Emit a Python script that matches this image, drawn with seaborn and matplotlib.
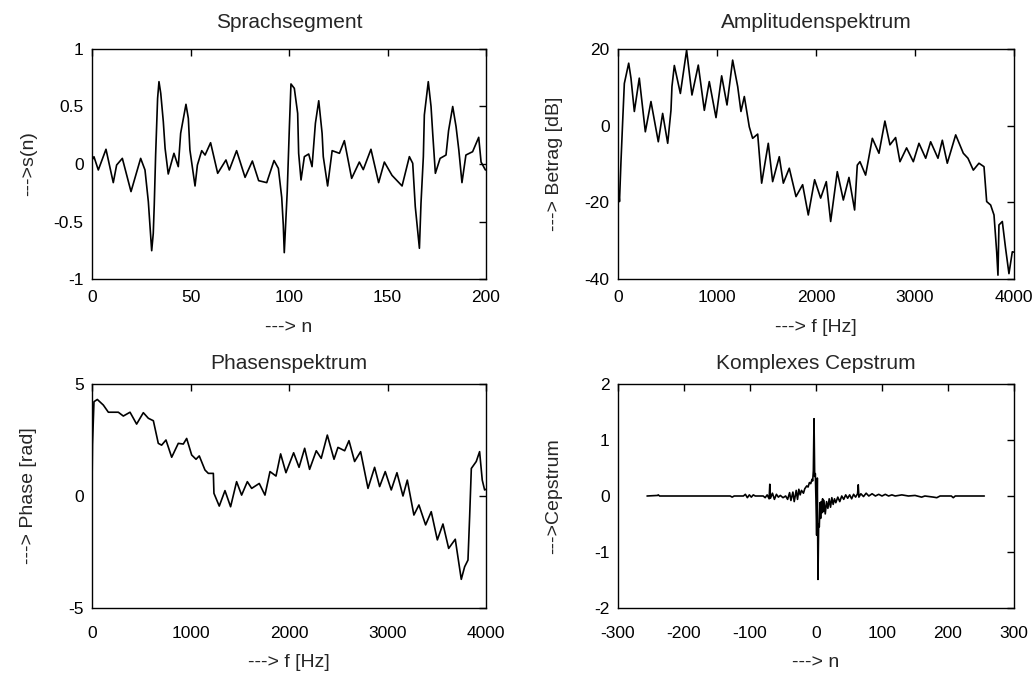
import numpy as np
import pandas as pd
import matplotlib
matplotlib.use("Agg")
import matplotlib.pyplot as plt
import seaborn as sns

# ---------------- data ----------------
# Sprachsegment (speech segment), n vs s(n)
sp_n = [0, 1, 3.2, 7.1, 10.8, 12.5, 15.4, 19.8, 24.7, 26.9, 28.6, 29.4, 30.3, 31.1, 31.6,
        32.3, 33.3, 34.0, 34.9, 36.2, 37.1, 38.7, 41.6, 43.8, 45.0, 47.7, 48.9, 49.7, 52.3,
        53.5, 55.7, 57.4, 60.2, 63.8, 68.0, 69.7, 73.4, 77.7, 81.4, 84.6, 88.7, 92.4, 94.6,
        96.3, 97.1, 97.6, 99.1, 100.2, 101.0, 102.7, 104.4, 104.9, 106.1, 107.8, 110.0,
        111.7, 113.4, 115.1, 116.8, 117.4, 119.6, 121.9, 125.6, 128.1, 131.8, 135.7, 137.7,
        141.6, 145.5, 148.4, 152.3, 157.4, 161.1, 162.8, 164.1, 166.2, 167.0, 168.2, 168.7,
        170.7, 172.1, 173.0, 174.3, 176.7, 179.7, 181.0, 183.1, 184.8, 186.2, 187.8, 189.8,
        193.2, 196.3, 197.5, 199.7]
sp_val = [0.035, 0.063, -0.052, 0.128, -0.162, -0.009, 0.049, -0.24, 0.049, -0.052, -0.328,
          -0.53, -0.754, -0.603, -0.357, 0.078, 0.571, 0.716, 0.614, 0.368, 0.136, -0.087,
          0.093, -0.023, 0.267, 0.519, 0.397, 0.122, -0.191, -0.009, 0.116, 0.078, 0.185,
          -0.081, 0.035, -0.052, 0.116, -0.116, 0.026, -0.145, -0.162, 0.03, -0.038, -0.29,
          -0.53, -0.771, -0.24, 0.325, 0.696, 0.658, 0.44, 0.093, -0.139, 0.064, 0.087,
          -0.023, 0.354, 0.55, 0.267, 0.064, -0.191, 0.116, 0.093, 0.203, -0.125, 0.017,
          -0.049, 0.128, -0.162, 0.017, -0.099, -0.191, 0.064, 0.006, -0.371, -0.733,
          -0.342, 0.064, 0.426, 0.716, 0.5, 0.252, -0.081, 0.049, 0.078, 0.29, 0.5, 0.325,
          0.122, -0.162, 0.078, 0.107, 0.232, 0.017, -0.052]

# Amplitudenspektrum, f [Hz] vs Betrag [dB]
amp_f = [0, 7, 15, 30, 47, 64, 108, 131, 165, 215, 276, 333, 407, 451, 502, 535, 545, 569,
         630, 693, 747, 811, 872, 922, 990, 1047, 1101, 1158, 1209, 1242, 1276, 1326, 1360,
         1411, 1451, 1518, 1562, 1629, 1670, 1730, 1798, 1865, 1922, 1986, 2047, 2104, 2148,
         2215, 2276, 2333, 2390, 2417, 2444, 2501, 2569, 2636, 2696, 2747, 2804, 2848, 2915,
         2983, 3040, 3108, 3158, 3232, 3276, 3326, 3411, 3488, 3535, 3589, 3646, 3697, 3724,
         3764, 3798, 3825, 3838, 3848, 3882, 3915, 3949, 3983, 4000]
amp_db = [-17, -17.2, -19.8, -9.4, 1.0, 11, 16.3, 12.4, 3.7, 12.4, -1.6, 6.3, -4.2, 3.2, -4.6,
          4.0, 10.2, 15.7, 8.4, 19.7, 8.0, 15.8, 4.0, 11.5, 2.1, 13.0, 5.4, 17.1, 10.2, 3.7,
          7.6, -0.3, -3.3, -2.2, -15.0, -4.6, -14.6, -8.1, -15.0, -11.1, -18.5, -15.4, -23.3,
          -14.1, -18.9, -14.6, -25.0, -12.0, -19.4, -13.5, -22.0, -10.3, -9.4, -12.9, -3.3,
          -7.2, 1.2, -5.0, -3.1, -9.4, -5.8, -9.4, -4.6, -8.5, -4.2, -8.5, -3.8, -9.8, -2.4,
          -7.2, -8.5, -11.6, -9.8, -10.7, -19.8, -20.7, -23.3, -32.9, -39, -25.9, -25.0, -32,
          -38.6, -32.9, -33]

# Phasenspektrum, f [Hz] vs Phase [rad]
ph_f = [0, 5, 20, 54, 115, 166, 267, 318, 386, 453, 521, 572, 623, 673, 707, 751, 809, 876,
        927, 961, 1012, 1056, 1089, 1147, 1181, 1232, 1238, 1292, 1350, 1407, 1468, 1519, 1577,
        1621, 1698, 1756, 1807, 1868, 1915, 1969, 2047, 2102, 2159, 2209, 2277, 2327, 2389,
        2457, 2497, 2565, 2609, 2666, 2727, 2802, 2869, 2920, 2977, 3038, 3096, 3157, 3201,
        3268, 3319, 3387, 3444, 3506, 3563, 3621, 3688, 3722, 3749, 3783, 3817, 3834, 3851,
        3901, 3935, 3962, 3986, 4000]
ph_val = [0.45, 2.3, 4.21, 4.31, 4.06, 3.74, 3.74, 3.57, 3.74, 3.21, 3.72, 3.47, 3.36, 2.35,
          2.27, 2.5, 1.73, 2.35, 2.32, 2.57, 1.83, 1.64, 1.79, 1.16, 1.01, 1.01, 0.12, -0.45,
          0.24, -0.48, 0.64, 0.04, 0.64, 0.34, 0.56, 0.04, 1.09, 0.89, 1.88, 1.04, 1.93, 1.28,
          2.13, 1.19, 2.02, 1.68, 2.72, 1.64, 2.17, 2.02, 2.47, 1.54, 1.98, 0.34, 1.28, 0.42,
          1.09, 0.27, 1.04, 0.0, 0.71, -0.85, -0.40, -1.29, -0.70, -1.96, -1.25, -2.34, -1.93,
          -2.93, -3.72, -3.16, -2.86, -0.91, 1.23, 1.54, 1.98, 0.71, 0.27, 0.3]

# Komplexes Cepstrum, n vs cepstrum
cep_n = [-256, -240, -239, -237, -130, -127, -124, -110, -107, -104, -101, -98, -95, -92,
         -80, -77, -74, -71, -70, -69, -66, -63, -60, -57, -54, -50, -46, -43, -40, -38, -35,
         -33, -30, -28, -26, -24, -22, -19, -17, -14, -12, -10, -8, -6, -5, -4, -3, -2, -1, 0,
         1, 2, 3, 4, 5, 6, 7, 8, 9, 10, 11, 12, 14, 16, 18, 20, 22, 24, 26, 28, 30, 33, 36,
         39, 42, 45, 48, 51, 54, 57, 60, 63, 64, 65, 68, 72, 76, 80, 85, 90, 95, 100, 105,
         110, 115, 120, 130, 140, 150, 160, 165, 178, 183, 188, 205, 208, 211, 255]
cep_val = [0, 0.01, 0.02, 0, 0, -0.02, 0, 0, 0.03, -0.03, 0.02, -0.02, 0.02, 0,
           0, -0.03, 0.02, -0.05, 0.21, -0.04, 0.05, -0.06, 0.03, -0.02, 0.01, -0.03, 0.0,
           -0.06, 0.06, -0.08, 0.07, -0.1, 0.1, -0.06, 0.12, 0.02, 0.1, 0.05, 0.13, 0.18,
           0.16, 0.24, 0.22, 0.3, 0.27, 0.45, 1.38, 0.35, 0.4, -0.1, -0.7, 0.32, -1.49, -0.5,
           -0.55, -0.12, -0.4, -0.1, -0.3, -0.05, -0.28, -0.08, -0.32, -0.1, -0.22, -0.05,
           -0.2, -0.03, -0.15, -0.05, -0.12, -0.02, -0.1, 0.0, -0.06, 0.02, -0.04, 0.02,
           -0.05, 0.03, -0.02, 0.04, 0.2, -0.02, 0.04, -0.01, 0.05, 0.0, 0.04, 0.0, 0.03,
           0.0, 0.03, 0.0, 0.02, 0.0, 0.02, 0.0, 0.01, -0.02, 0, -0.02, -0.03, 0, 0, -0.03,
           0, 0]

# ---------------- styling ----------------
sns.set_style("white")
plt.rcParams["font.family"] = ["Liberation Sans", "DejaVu Sans"]
plt.rcParams["xtick.direction"] = "in"
plt.rcParams["ytick.direction"] = "in"

fig = plt.figure(figsize=(10.36, 6.73), dpi=100)
W, H = 1036, 673


def make_ax(x0, y0, x1, y1):
    return fig.add_axes([x0 / W, 1 - y1 / H, (x1 - x0) / W, (y1 - y0) / H])


axes = [make_ax(92, 49, 486, 279), make_ax(618, 49, 1014, 279),
        make_ax(92, 384, 486, 608), make_ax(618, 384, 1014, 608)]

panels = [
    (sp_n, sp_val, "Sprachsegment", "---> n", "--->s(n)", (0, 200), (-1, 1),
     [0, 50, 100, 150, 200], [-1, -0.5, 0, 0.5, 1], ["-1", "-0.5", "0", "0.5", "1"]),
    (amp_f, amp_db, "Amplitudenspektrum", "---> f [Hz]", "---> Betrag [dB]", (0, 4000), (-40, 20),
     [0, 1000, 2000, 3000, 4000], [-40, -20, 0, 20], ["-40", "-20", "0", "20"]),
    (ph_f, ph_val, "Phasenspektrum", "---> f [Hz]", "---> Phase [rad]", (0, 4000), (-5, 5),
     [0, 1000, 2000, 3000, 4000], [-5, 0, 5], ["-5", "0", "5"]),
    (cep_n, cep_val, "Komplexes Cepstrum", "---> n", "--->Cepstrum", (-300, 300), (-2, 2),
     [-300, -200, -100, 0, 100, 200, 300], [-2, -1, 0, 1, 2], ["-2", "-1", "0", "1", "2"]),
]

for i, (ax, (xs, ys, title, xl, yl, xlim, ylim, xt, yt, ytl)) in enumerate(zip(axes, panels)):
    top_row = i < 2
    df = pd.DataFrame({"x": xs, "y": ys})
    sns.lineplot(data=df, x="x", y="y", ax=ax, color="black", linewidth=1.2,
                 estimator=None, sort=False)
    ax.set_xlim(*xlim)
    ax.set_ylim(*ylim)
    ax.set_xticks(xt)
    ax.set_xticklabels([str(v) for v in xt])
    ax.set_yticks(yt)
    ax.set_yticklabels(ytl)
    ax.tick_params(axis="both", which="both", direction="in", length=5, width=1,
                   top=True, right=True, labelsize=12.5, colors="black")
    ax.tick_params(axis="x", pad=8 if top_row else 13)
    ax.tick_params(axis="y", pad=6)
    for s in ax.spines.values():
        s.set_color("black")
        s.set_linewidth(1.0)
        s.set_visible(True)
    ax.set_title(title, fontsize=15, pad=15 if top_row else 11)
    ax.set_xlabel(xl, fontsize=14)
    ax.set_ylabel(yl, fontsize=14)
    ax.yaxis.set_label_coords(-0.14, 0.5)
    ax.xaxis.set_label_coords(0.5, -0.175 if top_row else -0.205)

fig.savefig("out.png", dpi=100, facecolor="white")
